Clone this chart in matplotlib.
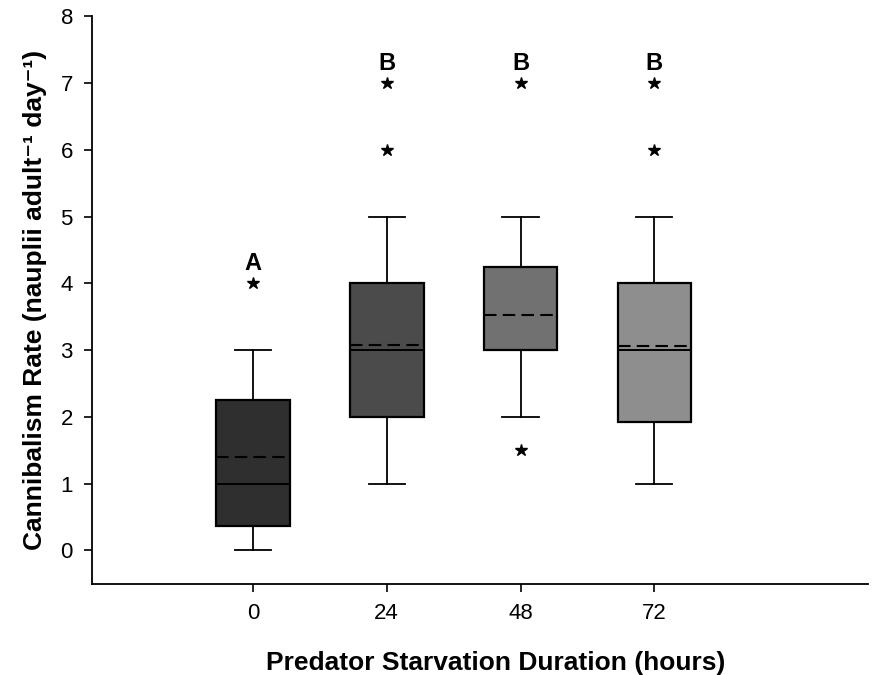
import matplotlib.pyplot as plt

plt.rcParams['font.family'] = ['Liberation Sans', 'DejaVu Sans']

groups = ["0", "24", "48", "72"]
whisker_low = [0, 1, 2, 1]
q1 = [0.37, 2, 3, 1.92]
medians = [1, 3, 3, 3]
q3 = [2.25, 4, 4.25, 4]
whisker_high = [3, 5, 5, 5]
means = [1.4, 3.08, 3.53, 3.06]
outliers = [[4], [6, 7], [1.5, 7], [6, 7]]
letters = ["A", "B", "B", "B"]
box_colors = ["#2f2f2f", "#4b4b4b", "#717171", "#8e8e8e"]

stats = []
for i in range(len(groups)):
    stats.append({
        "whislo": whisker_low[i], "q1": q1[i], "med": medians[i],
        "q3": q3[i], "whishi": whisker_high[i], "mean": means[i],
        "fliers": outliers[i], "label": groups[i],
    })

fig = plt.figure(figsize=(8.88, 6.75), dpi=100)
ax = fig.add_axes([0.104, 0.135, 0.874, 0.841])

pos = [1, 2, 3, 4]
bp = ax.bxp(stats, positions=pos, widths=0.55, capwidths=0.27,
            patch_artist=True, showmeans=True, meanline=True,
            boxprops=dict(linewidth=1.6, edgecolor="black"),
            medianprops=dict(color="black", linewidth=1.4),
            meanprops=dict(color="black", linewidth=1.5, linestyle=(0, (6, 3))),
            whiskerprops=dict(color="black", linewidth=1.3),
            capprops=dict(color="black", linewidth=1.3),
            flierprops=dict(marker="*", markerfacecolor="black",
                            markeredgecolor="black", markersize=9))
for patch, c in zip(bp["boxes"], box_colors):
    patch.set_facecolor(c)

# significance letters above the highest point of each group
for x, lab, out, hi in zip(pos, letters, outliers, whisker_high):
    top = max(out + [hi])
    ax.text(x, top + 0.12, lab, ha="center", va="bottom",
            fontsize=17, fontweight="bold")

ax.set_xlim(-0.2, 5.6)
ax.set_ylim(-0.5, 8)
ax.set_yticks(range(0, 9))
ax.set_xticks(pos)
ax.set_xticklabels(groups)
ax.spines["top"].set_visible(False)
ax.spines["right"].set_visible(False)
for s in ("left", "bottom"):
    ax.spines[s].set_linewidth(1.3)
ax.tick_params(direction="out", length=6, width=1.2, labelsize=16, pad=8)

ax.set_xlabel("Predator Starvation Duration (hours)", fontsize=19,
              fontweight="bold")
ax.xaxis.set_label_coords(0.52, -0.118)
ax.set_ylabel("Cannibalism Rate (nauplii adult\u207b\u00b9 day\u207b\u00b9)",
              fontsize=19, fontweight="bold", labelpad=10)

fig.savefig("out.png", dpi=100)
